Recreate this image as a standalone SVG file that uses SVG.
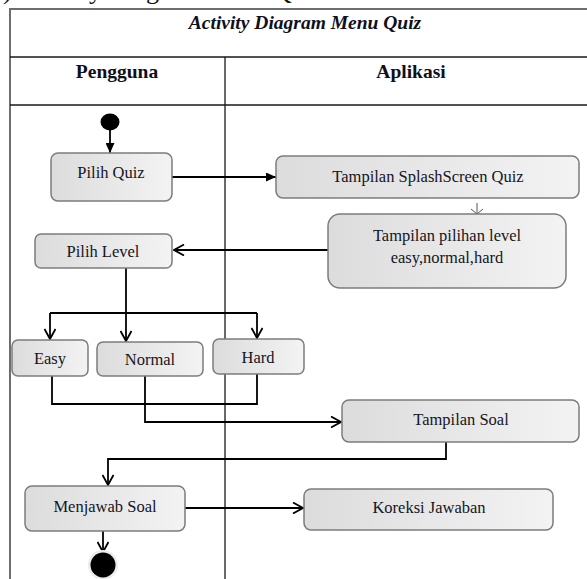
<svg xmlns="http://www.w3.org/2000/svg" width="587" height="579" viewBox="0 0 587 579">
  <style>
    .frame { fill: none; stroke: #6e6e6e; stroke-width: 2; }
    .grid { fill: none; stroke: #1a1a1a; stroke-width: 1.3; }
    .box { fill: url(#boxFill); stroke: #7c7c7c; stroke-width: 1.5; }
    text { font-family: 'Liberation Serif', serif; }
    .lbl { font-size: 16.5px; fill: #15151f; text-anchor: middle; }
    .head { font-size: 19.5px; font-weight: bold; fill: #10101a; text-anchor: middle; }
    .title { font-size: 19.5px; font-weight: bold; font-style: italic; fill: #10101a; text-anchor: middle; }
    .edge { fill: none; stroke: #000; stroke-width: 1.8; }
    .open { marker-end: url(#arrOpen); }
    .solid { marker-end: url(#arrFill); }
  </style>
  <defs>
    <linearGradient id="boxFill" x1="0" y1="0" x2="1" y2="0">
      <stop offset="0" stop-color="#dcdcdc"/>
      <stop offset="1" stop-color="#f3f3f3"/>
    </linearGradient>
    <marker id="arrOpen" viewBox="0 0 12 12" refX="11" refY="6" markerWidth="12" markerHeight="12" markerUnits="userSpaceOnUse" orient="auto">
      <path d="M1,0.5 L11,6 L1,11.5" fill="none" stroke="#000" stroke-width="1.8"/>
    </marker>
    <marker id="arrFill" viewBox="0 0 10 9" refX="10" refY="4.5" markerWidth="10" markerHeight="9" markerUnits="userSpaceOnUse" orient="auto">
      <path d="M0,0 L10,4.5 L0,9 z" fill="#000"/>
    </marker>
  </defs>

  <rect width="587" height="579" fill="#fff"/>

  <!-- caption line running in from above, only its descenders show -->
  <text x="3" y="-1" font-size="26" fill="#111">) Activity Diagram Menu Quiz</text>

  <!-- swimlane table -->
  <g id="swimlanes">
    <path class="frame" d="M10,579 V9 H587"/>
    <path class="grid" d="M10,57 H587 M10,105 H587 M225,57 V579"/>
    <text class="title" x="305" y="29">Activity Diagram Menu Quiz</text>
    <text class="head" x="117" y="78">Pengguna</text>
    <text class="head" x="411" y="78">Aplikasi</text>
  </g>

  <!-- connectors -->
  <g id="connectors">
    <path class="edge solid" d="M110,129 V153"/>
    <path class="edge solid" d="M172,177 H276"/>
    <path d="M477,203 V214 M471,209 L477,214 L483,209" fill="none" stroke="#555" stroke-width="1"/>
    <path class="edge open" d="M328,250 H174"/>
    <path class="edge" d="M126,268 V313"/>
    <path class="edge" d="M50,313 H257"/>
    <path class="edge open" d="M50,313 V339"/>
    <path class="edge open" d="M126,313 V341"/>
    <path class="edge open" d="M257,313 V338"/>
    <path class="edge" d="M52,376 V404 H257 V374"/>
    <path class="edge open" d="M145,376 V422 H341"/>
    <path class="edge open" d="M446,442 V459 H108 V485"/>
    <path class="edge open" d="M185,508 H303"/>
    <path class="edge open" d="M103,531 V552"/>
  </g>

  <!-- initial node -->
  <g id="start">
    <ellipse cx="110" cy="122" rx="9.5" ry="8.5" fill="#000"/>
  </g>

  <g id="pilih-quiz">
    <rect class="box" x="51" y="153" width="121" height="48" rx="7"/>
    <text class="lbl" x="111" y="178">Pilih Quiz</text>
  </g>

  <g id="splash">
    <rect class="box" x="276" y="156" width="303" height="42" rx="7"/>
    <text class="lbl" x="428" y="182">Tampilan SplashScreen Quiz</text>
  </g>

  <g id="pilihan-level">
    <rect class="box" x="328" y="214" width="238" height="74" rx="12"/>
    <text class="lbl" x="447" y="241">Tampilan pilihan level</text>
    <text class="lbl" x="447" y="263">easy,normal,hard</text>
  </g>

  <g id="pilih-level">
    <rect class="box" x="35" y="234" width="137" height="34" rx="6"/>
    <text class="lbl" x="103" y="257">Pilih Level</text>
  </g>

  <g id="easy">
    <rect class="box" x="12" y="340" width="76" height="36" rx="6"/>
    <text class="lbl" x="50" y="364">Easy</text>
  </g>

  <g id="normal">
    <rect class="box" x="97" y="342" width="106" height="34" rx="6"/>
    <text class="lbl" x="150" y="365">Normal</text>
  </g>

  <g id="hard">
    <rect class="box" x="213" y="339" width="91" height="35" rx="6"/>
    <text class="lbl" x="258" y="363">Hard</text>
  </g>

  <g id="tampilan-soal">
    <rect class="box" x="342" y="400" width="237" height="42" rx="7"/>
    <text class="lbl" x="461" y="425">Tampilan Soal</text>
  </g>

  <g id="menjawab-soal">
    <rect class="box" x="25" y="486" width="160" height="45" rx="7"/>
    <text class="lbl" x="105" y="512">Menjawab Soal</text>
  </g>

  <g id="koreksi">
    <rect class="box" x="304" y="489" width="249" height="41" rx="7"/>
    <text class="lbl" x="429" y="513">Koreksi Jawaban</text>
  </g>

  <!-- final node -->
  <g id="end">
    <circle cx="103" cy="565" r="15" fill="#ececec"/>
    <circle cx="103" cy="565" r="12.5" fill="#000"/>
  </g>
</svg>
